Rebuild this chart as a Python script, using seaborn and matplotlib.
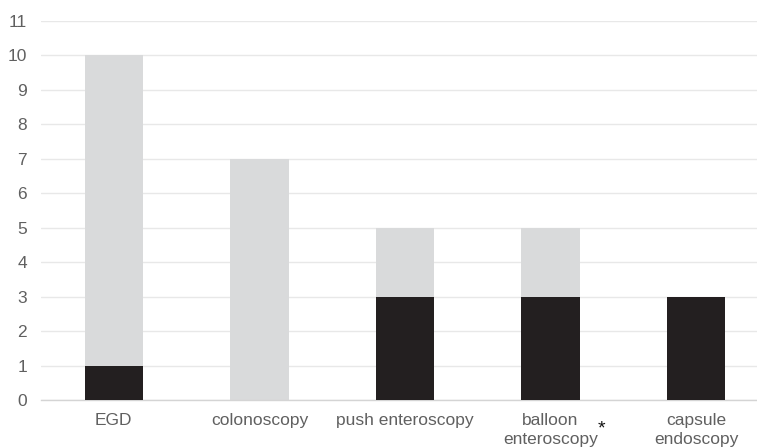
import matplotlib
matplotlib.use("Agg")
import matplotlib.pyplot as plt
import matplotlib.transforms as mtransforms
import seaborn as sns
import pandas as pd

categories = ["EGD", "colonoscopy", "push enteroscopy", "balloon\nenteroscopy", "capsule\nendoscopy"]
totals = [10, 7, 5, 5, 3]
black_part = [1, 0, 3, 3, 3]
yticks = list(range(0, 12))

sns.set_theme(style="white")
plt.rcParams['font.family'] = ['Liberation Sans', 'DejaVu Sans']

df = pd.DataFrame({"cat": categories, "total": totals, "black": black_part})

fig = plt.figure(figsize=(7.57, 4.48), dpi=100)
ax = fig.add_axes([41 / 757, 48 / 448, 728 / 757, 379 / 448])

sns.barplot(data=df, x="cat", y="total", color="#d9dadb", width=0.4,
            saturation=1, linewidth=0, ax=ax, zorder=2)
sns.barplot(data=df, x="cat", y="black", color="#231f20", width=0.4,
            saturation=1, linewidth=0, ax=ax, zorder=3)

ax.set_ylim(0, 11)
ax.set_xlim(-0.5, 4.5)
ax.set_yticks(yticks)
ax.set_xlabel("")
ax.set_ylabel("")
ax.grid(axis="y", color="#e8e8e8", linewidth=1, zorder=0)
ax.set_axisbelow(True)
for s in ["top", "right", "left"]:
    ax.spines[s].set_visible(False)
ax.spines["bottom"].set_color("#d4d4d4")
ax.spines["bottom"].set_linewidth(1)
ax.tick_params(axis="both", length=0, labelsize=12.5, labelcolor="#606060")
ax.tick_params(axis="x", pad=9)
ax.tick_params(axis="y", pad=10)
for lab in ax.get_xticklabels():
    lab.set_linespacing(1.4)

# asterisk after "enteroscopy"
trans = mtransforms.blended_transform_factory(ax.transData, ax.transAxes)
ax.text(3, 0, "*", transform=trans + mtransforms.ScaledTranslation(47 / 100, -29 / 100, fig.dpi_scale_trans),
        fontsize=14, color="#111111", ha="left", va="center")

fig.savefig("out.png", dpi=100)
